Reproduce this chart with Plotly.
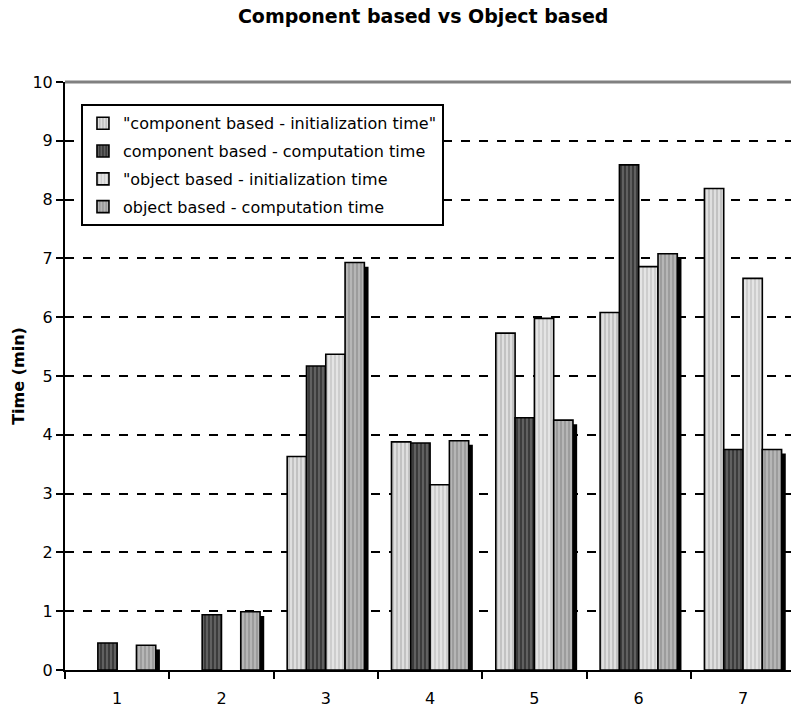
import plotly.graph_objects as go

# Test cases 1..7, times in minutes
categories = [1, 2, 3, 4, 5, 6, 7]
tick_labels = ["1", "2", "3", "4", "5", "6", "7"]

comp_init = [None, None, 3.63, 3.88, 5.73, 6.08, 8.19]
comp_comp = [0.46, 0.94, 5.17, 3.86, 4.29, 8.59, 3.75]
obj_init = [None, None, 5.37, 3.15, 5.98, 6.86, 6.66]
obj_comp = [0.42, 0.99, 6.93, 3.90, 4.25, 7.08, 3.75]

series_names = [
    '"component based - initialization time"',
    'component based - computation time',
    '"object based - initialization time',
    'object based - computation time',
]
series_values = [comp_init, comp_comp, obj_init, obj_comp]

# fill / stripe colours for each series
bg_colors = ["#c2c2c2", "#3c3c3c", "#e4e4e4", "#9c9c9c"]
fg_colors = ["#ececec", "#707070", "#c4c4c4", "#c2c2c2"]

FONT = "DejaVu Sans"
bar_w = 0.185
offsets = [-2 * bar_w, -bar_w, 0.0, bar_w]

fig = go.Figure()

# drop shadow behind the last series of every group
fig.add_trace(go.Bar(
    x=categories,
    y=[v - 0.07 if v is not None else None for v in obj_comp],
    width=bar_w, offset=offsets[3] + 0.04,
    marker=dict(color="#000000", line=dict(width=0)),
    showlegend=False, hoverinfo="skip",
))

for i, (name, vals) in enumerate(zip(series_names, series_values)):
    fig.add_trace(go.Bar(
        x=categories, y=vals, name=name,
        width=bar_w, offset=offsets[i],
        legendgroup=f"g{i}",
        marker=dict(
            color=bg_colors[i],
            line=dict(color="#000000", width=1.6),
            pattern=dict(shape="|", fgcolor=fg_colors[i], bgcolor=bg_colors[i],
                         size=4, solidity=0.35, fillmode="replace"),
        ),
    ))

fig.update_layout(
    width=791, height=708,
    margin=dict(l=65, r=0, t=82, b=38),
    paper_bgcolor="#ffffff", plot_bgcolor="#ffffff",
    barmode="overlay",
    font=dict(family=FONT, size=16, color="#000000"),
    title=dict(text="<b>Component based vs Object based</b>",
               font=dict(family=FONT, size=19, color="#000000"),
               x=0.535, xanchor="center", y=0.977, yanchor="middle",
               yref="container"),
    legend=dict(
        x=0.022, y=0.962, xanchor="left", yanchor="top",
        bgcolor="#ffffff", bordercolor="#000000", borderwidth=2,
        font=dict(family=FONT, size=16, color="#000000"),
        tracegroupgap=4, traceorder="grouped",
    ),
    xaxis=dict(
        range=[0.5, 7.46], tickmode="array",
        tickvals=[0.5, 1.5, 2.5, 3.5, 4.5, 5.5, 6.5, 7.5],
        showticklabels=False, ticks="outside", ticklen=7, tickwidth=1.5,
        tickcolor="#000000", showline=True, linecolor="#000000", linewidth=2,
        showgrid=False, zeroline=False,
    ),
    xaxis2=dict(
        overlaying="x", anchor="y", side="bottom", matches="x",
        tickmode="array", tickvals=categories, ticktext=tick_labels,
        ticks="", showline=False, showgrid=False, zeroline=False,
        ticklabelstandoff=17,
        tickfont=dict(family=FONT, size=16, color="#000000"),
    ),
    yaxis=dict(
        range=[0, 10], tickmode="array", tickvals=list(range(0, 11)),
        ticks="outside", ticklen=7, tickwidth=1.5, tickcolor="#000000",
        showline=True, linecolor="#000000", linewidth=2,
        showgrid=True, gridcolor="#000000", gridwidth=1.5, griddash="dash",
        zeroline=False,
        tickfont=dict(family=FONT, size=16, color="#000000"),
    ),
    annotations=[dict(
        text="<b>Time (min)</b>", textangle=-90,
        xref="paper", yref="paper", x=-0.065, y=0.5,
        xanchor="center", yanchor="middle", showarrow=False,
        font=dict(family=FONT, size=16, color="#000000"),
    )],
    shapes=[dict(
        type="line", xref="paper", yref="paper", x0=0, x1=1, y0=1, y1=1,
        line=dict(color="#808080", width=3),
    )],
)

# invisible trace so the label axis is drawn
fig.add_trace(go.Scatter(x=[1], y=[None], xaxis="x2", showlegend=False,
                         hoverinfo="skip", mode="markers"))

fig.write_html("out.html")
